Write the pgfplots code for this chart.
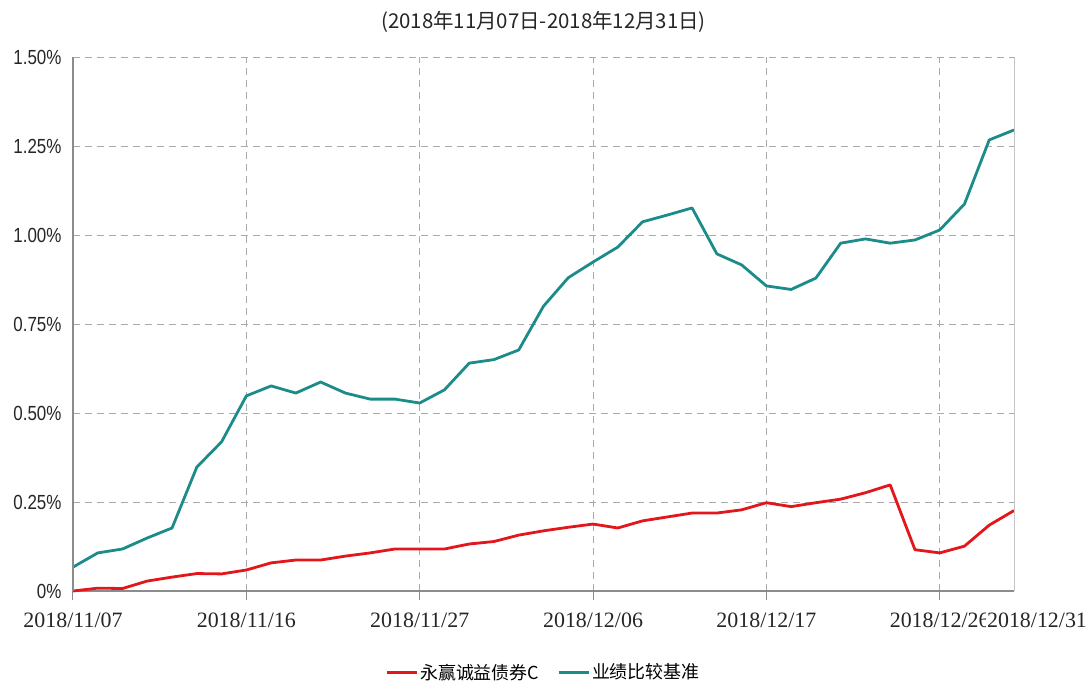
\documentclass[border=0pt]{standalone}
\usepackage{pgfplots}
\pgfplotsset{compat=1.18}
\usepackage{pgfplotstable}
\usepackage{fontspec}
\setmainfont{Liberation Sans}
\newfontfamily\serifx{Liberation Serif}
\newfontfamily\sfcond[FakeStretch=0.83]{Liberation Sans}
\newfontfamily\cjk{Noto Sans CJK SC}
\definecolor{fundred}{HTML}{E3161C}
\definecolor{benchteal}{HTML}{1B8C89}
\definecolor{gridgray}{HTML}{AAAAAA}
\definecolor{axgray}{HTML}{8C8C8C}
\pgfplotstableread{
i fund bench
0 0.000 0.067
1 0.008 0.107
2 0.007 0.118
3 0.028 0.149
4 0.039 0.177
5 0.049 0.348
6 0.048 0.419
7 0.059 0.548
8 0.079 0.576
9 0.087 0.556
10 0.087 0.587
11 0.098 0.556
12 0.107 0.539
13 0.118 0.539
14 0.118 0.528
15 0.118 0.565
16 0.132 0.640
17 0.139 0.650
18 0.157 0.677
19 0.169 0.800
20 0.179 0.880
21 0.188 0.924
22 0.177 0.966
23 0.197 1.037
24 0.208 1.056
25 0.219 1.076
26 0.219 0.947
27 0.228 0.916
28 0.248 0.857
29 0.237 0.847
30 0.248 0.879
31 0.258 0.977
32 0.276 0.989
33 0.298 0.977
34 0.116 0.986
35 0.107 1.014
36 0.126 1.087
37 0.185 1.267
38 0.226 1.295
}\datatable
\begin{document}
\begin{tikzpicture}
\begin{axis}[
  scale only axis,
  width=941bp, height=534bp,
  xmin=0, xmax=38, ymin=0, ymax=1.5,
  axis x line*=bottom, axis y line*=left,
  axis line style={axgray, line width=1.4bp},
  xtick={0,7,14,21,28,35},
  xticklabels={2018/11/07,2018/11/16,2018/11/27,2018/12/06,2018/12/17,2018/12/26},
  extra x ticks={38},
  extra x tick labels={2018/12/31},
  extra x tick style={grid=none, major tick length=0pt, xticklabel style={fill=white, inner xsep=1bp, xshift=23bp, yshift=-9bp}},
  xticklabel style={font=\serifx\fontsize{22}{23}\selectfont, text=black!85, yshift=-9bp},
  x tick style={axgray, line width=1bp},
  tick align=outside,
  major tick length=9bp,
  ytick={0,0.25,0.5,0.75,1.0,1.25,1.5},
  yticklabels={0\%,0.25\%,0.50\%,0.75\%,1.00\%,1.25\%,1.50\%},
  y tick style={draw=none},
  yticklabel style={font=\sfcond\fontsize{20.5}{21}\selectfont, text=black!85, xshift=1bp},
  /pgf/number format/assume math mode=true,
  grid=major,
  major grid style={gridgray, dash pattern=on 7bp off 5bp, line width=0.8bp},
  legend style={at={(0.5,-0.152)}, anchor=center, draw=none, legend columns=2,
    font=\cjk\fontsize{18}{19}\selectfont, /tikz/every even column/.append style={column sep=16bp}},
  legend image code/.code={\draw[#1, line width=2.8bp] (0bp,0bp) -- (30bp,0bp);},
  clip=false,
]
\addplot[fundred, line width=2.8bp, line join=round] table[x=i, y=fund] {\datatable};
\addlegendentry{永赢诚益债券C}
\addplot[benchteal, line width=2.8bp, line join=round] table[x=i, y=bench] {\datatable};
\addlegendentry{业绩比较基准}
\draw[gridgray!70, line width=0.8bp] (axis cs:38,0) -- (axis cs:38,1.5);
\draw[axgray, line width=1.4bp] (axis cs:0,0) -- (axis cs:0,1.5);
\node[font=\cjk\fontsize{20.5}{21}\selectfont, text=black!85] at ([yshift=35bp]rel axis cs:0.5,1) {(2018年11月07日-2018年12月31日)};
\end{axis}
\pgfresetboundingbox
\path[use as bounding box] ([shift={(-73bp,-93bp)}]current axis.south west) rectangle ([shift={(73bp,57bp)}]current axis.north east);
\end{tikzpicture}
\end{document}
